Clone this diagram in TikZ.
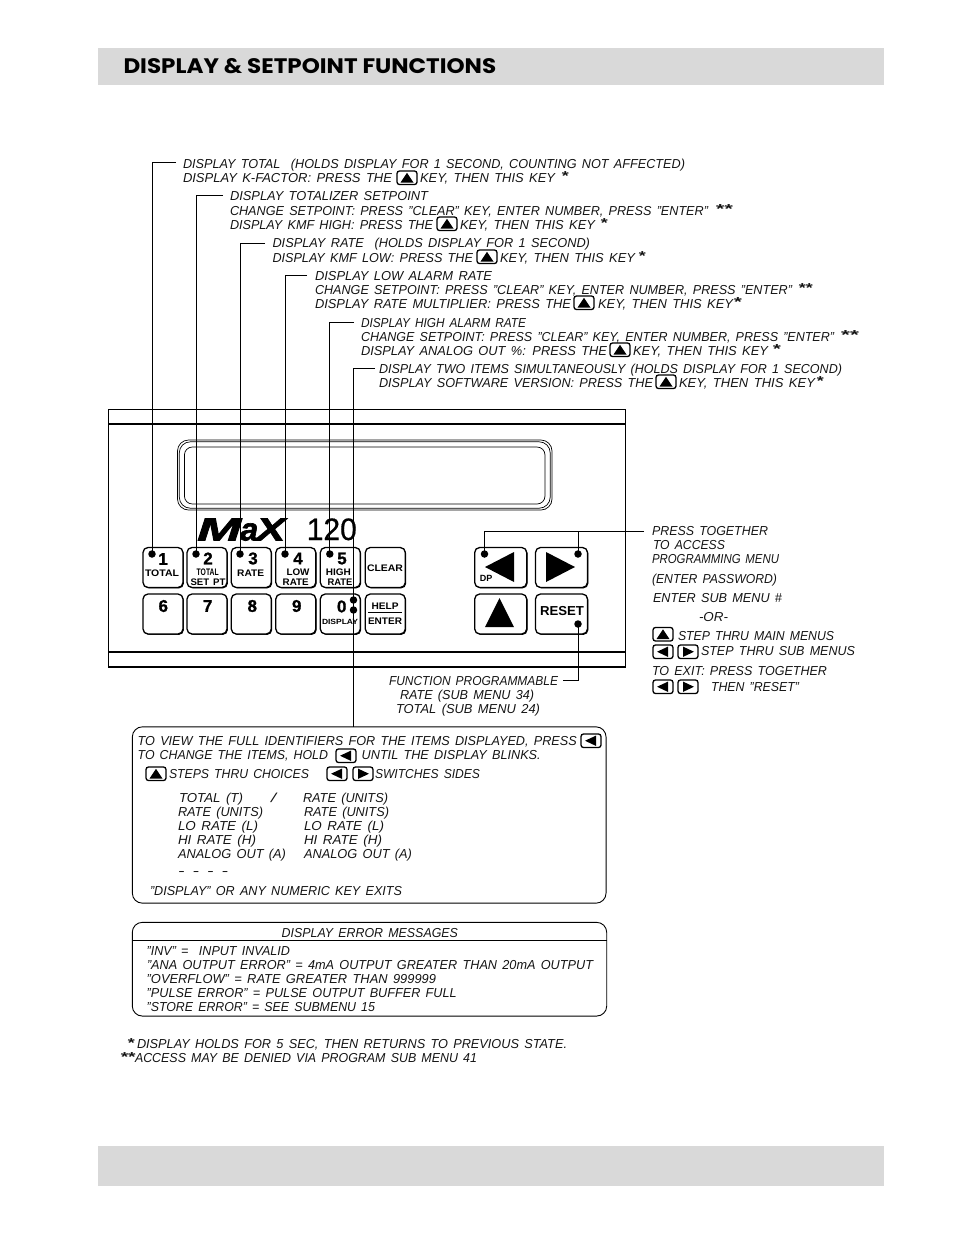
\documentclass[tikz,border=0pt]{standalone}
\usepackage{fontspec}
\usepackage{graphicx}
\setmainfont{Liberation Sans}[WordSpace=1.5]
\newfontfamily\titlefont{Poppins}
\newfontface\logofont{Liberation Sans Bold Italic}[FakeBold=2]
\newfontface\digitfont{Liberation Sans Bold}[FakeBold=1]
\newfontface\numfont{Liberation Sans}[FakeBold=0.6]
\usetikzlibrary{shadows}
\newcounter{lbl}
\tikzset{
  lab/.style={inner sep=0pt,outer sep=0pt,font=\fontsize{13}{14}\selectfont\itshape,text=black!92},
  keylab/.style={inner sep=0pt,outer sep=0pt,font=\fontsize{9.5}{10}\selectfont\bfseries},
  digit/.style={inner sep=0pt,outer sep=0pt,font=\digitfont\fontsize{17}{18}\selectfont},
  keybox/.style={draw,fill=white,rounded corners=5pt,line width=1.3pt,minimum width=40pt,minimum height=40pt,inner sep=0pt,
    drop shadow={shadow xshift=0.9pt,shadow yshift=-0.9pt,opacity=1,fill=black}},
  bigkey/.style={keybox,minimum width=52pt},
  leader/.style={line width=0.9pt},
  keydot/.style={circle,fill=black,inner sep=0pt,minimum size=7.5pt},
  panel/.style={line width=1.2pt},
  msgbox/.style={draw,rounded corners=10pt,line width=0.9pt,inner sep=0pt},
  window/.style={line width=0.7pt,rounded corners=11pt},
  icon/.style={line width=1.3pt,rounded corners=2.5pt,fill=white}
}
% text line squeezed between two x positions, on a baseline
\newcommand\tl[4]{\stepcounter{lbl}\pgfmathsetlengthmacro\tlw{(#2)-(#1)}%
  \node[lab,anchor=base west] (t\thelbl) at (#1,#3) {\resizebox{\tlw}{\height}{#4}};}
% bold key legend: centre x, baseline, width
\newcommand\kl[4]{\stepcounter{lbl}%
  \node[keylab,anchor=base] (t\thelbl) at (#1,#2) {\resizebox{#3pt}{\height}{#4}};}
\newcommand\dg[3]{\stepcounter{lbl}\node[digit] (t\thelbl) at (#1,#2) {#3};}
\newcommand\kup[2]{\begin{scope}[shift={(#1,#2)}]\draw[icon] (0,0) rectangle (20,13.5);\fill (10,1.8)--(16.5,11.5)--(3.5,11.5)--cycle;\end{scope}}
\newcommand\kleft[2]{\begin{scope}[shift={(#1,#2)}]\draw[icon] (0,0) rectangle (20,13.5);\fill (4,6.75)--(15,1.6)--(15,11.9)--cycle;\end{scope}}
\newcommand\kright[2]{\begin{scope}[shift={(#1,#2)}]\draw[icon] (0,0) rectangle (20,13.5);\fill (16,6.75)--(5,1.6)--(5,11.9)--cycle;\end{scope}}
\begin{document}
\begin{tikzpicture}[x=1pt,y=-1pt]
\useasboundingbox (0,0) rectangle (954,1235);
% bands
\fill[black!15] (98,48) rectangle (884,85);
\fill[black!15] (98,1146) rectangle (884,1186);
\node[inner sep=0pt,anchor=base west,font=\titlefont\fontsize{21}{24}\selectfont\bfseries] (title) at (123.3,73.3) {\resizebox{372.7pt}{\height}{DISPLAY \& SETPOINT FUNCTIONS}};
% panel
\draw[panel] (108.6,409.5) rectangle (625.8,667);
\draw[panel] (108.6,424) -- (625.8,424);
\draw[panel] (108.6,652) -- (625.8,652);
% display window
\draw[window] (177.5,440) rectangle (552,510);
\draw[window] (179.3,441.8) rectangle (550.2,508.2);
\draw[window,rounded corners=8pt] (184.4,447) rectangle (545,504);
% logo
\node[inner sep=0pt,anchor=base west,font=\logofont\fontsize{32}{34}\selectfont] (logom) at (197,540.5) {\resizebox{44pt}{\height}{M}};
\node[inner sep=0pt,anchor=base west,font=\logofont\fontsize{32}{34}\selectfont] (logoa) at (240,540.5) {\resizebox{18pt}{\height}{a}};
\node[inner sep=0pt,anchor=base west,font=\logofont\fontsize{32}{34}\selectfont] (logox) at (256,540.5) {\resizebox{29pt}{\height}{X}};
\node[inner sep=0pt,anchor=base west,font=\numfont\fontsize{31}{34}\selectfont] (logon) at (306.6,540) {\resizebox{50pt}{\height}{120}};
% keys
\node[keybox] (k1) at (163,567.5) {};
\node[keybox] (k2) at (207,567.5) {};
\node[keybox] (k3) at (251.3,567.5) {};
\node[keybox] (k4) at (295.8,567.5) {};
\node[keybox] (k5) at (340.3,567.5) {};
\node[keybox] (kc) at (385.3,567.5) {};
\node[keybox] (k6) at (163,614) {};
\node[keybox] (k7) at (207,614) {};
\node[keybox] (k8) at (251.3,614) {};
\node[keybox] (k9) at (295.8,614) {};
\node[keybox] (k0) at (340.3,614) {};
\node[keybox] (kh) at (385.3,614) {};
\node[bigkey] (kl) at (500.7,567.5) {};
\node[bigkey] (kr) at (561.5,567.5) {};
\node[bigkey] (ku) at (500.7,614) {};
\node[bigkey] (kx) at (561.5,614) {};
\fill (485,567)--(514,552)--(514,582)--cycle;
\fill (575,567)--(546,552)--(546,582)--cycle;
\fill (499.5,598)--(514,627)--(485,627)--cycle;
% key legends
\dg{163}{559}{1}\dg{208}{558.5}{2}\dg{253}{558.5}{3}\dg{298}{558.5}{4}\dg{342}{558.5}{5}
\dg{163.3}{606}{6}\dg{207.7}{606}{7}\dg{252.3}{606}{8}\dg{296.7}{606}{9}\dg{341.7}{606.5}{0}
\kl{162}{576.5}{34}{TOTAL}
\kl{207.7}{575.5}{22}{TOTAL}
\kl{208}{585}{35}{SET PT}
\kl{250.7}{576.5}{27}{RATE}
\kl{298}{575}{23}{LOW}
\kl{295.7}{585}{26}{RATE}
\kl{338.3}{575}{25}{HIGH}
\kl{340}{585}{25}{RATE}
\kl{385}{571.5}{36}{CLEAR}
\kl{340}{624}{36}{\fontsize{7.5}{8}\selectfont DISPLAY}
\kl{385}{609}{27}{HELP}
\kl{385}{624}{34}{ENTER}
\draw[line width=1pt] (368,612.3) -- (402,612.3);
\stepcounter{lbl}\node[keylab,anchor=base,font=\fontsize{9}{10}\selectfont\bfseries] (dp) at (486,581) {DP};
\node[keylab,anchor=base,font=\fontsize{13}{14}\selectfont\bfseries] (reset) at (562,615.5) {\resizebox{44pt}{\height}{RESET}};
% dots
\node[keydot] (d1) at (152,554) {};
\node[keydot] (d2) at (196,554) {};
\node[keydot] (d3) at (240,554) {};
\node[keydot] (d4) at (285,554) {};
\node[keydot] (d5) at (329.8,554) {};
\node[keydot] (d6) at (353.5,600) {};
\node[keydot] (d7) at (353.5,610) {};
\node[keydot] (dl) at (484.5,554) {};
\node[keydot] (dr) at (578,554) {};
\node[keydot] (dx) at (578,624) {};
% message boxes
\node[msgbox,minimum width=473.7pt,minimum height=176.3pt] (box1) at (369.2,815) {};
\node[msgbox,minimum width=474.4pt,minimum height=93.7pt] (box2) at (369.5,969.2) {};
\coordinate (box2a) at (132.3,940);
\coordinate (box2b) at (606.7,940);
\draw[line width=0.9pt] (box2a) -- (box2b);
% leaders
\coordinate (c1) at (176,162.5);
\coordinate (c2) at (223,195.5);
\coordinate (c3) at (265,243);
\coordinate (c4) at (307,275);
\coordinate (c5) at (354,322);
\coordinate (c6) at (375,368);
\coordinate (c6b) at (353.5,727);
\coordinate (cm) at (644,531);
\coordinate (cmj) at (578,531);
\coordinate (cf) at (563,680);
\draw[leader] (c1) -| (d1.center);
\draw[leader] (c2) -| (d2.center);
\draw[leader] (c3) -| (d3.center);
\draw[leader] (c4) -| (d4.center);
\draw[leader] (c5) -| (d5.center);
\draw[leader] (c6) -| (c6b);
\draw[leader] (cm) -| (dl.center);
\draw[leader] (cmj) -- (dr.center);
\draw[leader] (cf) -| (dx.center);
% callout text
\tl{183}{685}{168}{DISPLAY TOTAL \ (HOLDS DISPLAY FOR 1 SECOND, COUNTING NOT AFFECTED)}
\tl{183}{392}{182}{DISPLAY K-FACTOR: PRESS THE}
\kup{397}{171}
\tl{420}{555}{182}{KEY, THEN THIS KEY}
\tl{561}{568}{180}{\bfseries *}
\tl{230}{428}{200.5}{DISPLAY TOTALIZER SETPOINT}
\tl{230}{708}{215}{CHANGE SETPOINT: PRESS "CLEAR" KEY, ENTER NUMBER, PRESS "ENTER"}
\tl{715}{732}{213}{\bfseries **}
\tl{230}{433}{229}{DISPLAY KMF HIGH: PRESS THE}
\kup{437}{217}
\tl{460}{595}{229}{KEY, THEN THIS KEY}
\tl{600}{607}{227}{\bfseries *}
\tl{272.5}{590}{247}{DISPLAY RATE \ (HOLDS DISPLAY FOR 1 SECOND)}
\tl{272.5}{473}{262}{DISPLAY KMF LOW: PRESS THE}
\kup{477}{250}
\tl{500}{635}{262}{KEY, THEN THIS KEY}
\tl{638}{645}{260}{\bfseries *}
\tl{315}{492}{280}{DISPLAY LOW ALARM RATE}
\tl{315}{792}{294}{CHANGE SETPOINT: PRESS "CLEAR" KEY, ENTER NUMBER, PRESS "ENTER"}
\tl{798}{812}{292}{\bfseries **}
\tl{315}{571}{308}{DISPLAY RATE MULTIPLIER: PRESS THE}
\kup{574}{296}
\tl{598}{733}{308}{KEY, THEN THIS KEY}
\tl{733}{741}{306}{\bfseries *}
\tl{361}{526}{327}{DISPLAY HIGH ALARM RATE}
\tl{361}{834}{341}{CHANGE SETPOINT: PRESS "CLEAR" KEY, ENTER NUMBER, PRESS "ENTER"}
\tl{840}{858}{339}{\bfseries **}
\tl{361}{607}{355}{DISPLAY ANALOG OUT \%: PRESS THE}
\kup{610}{343}
\tl{633}{768}{355}{KEY, THEN THIS KEY}
\tl{772}{780}{353}{\bfseries *}
\tl{379}{842}{373}{DISPLAY TWO ITEMS SIMULTANEOUSLY (HOLDS DISPLAY FOR 1 SECOND)}
\tl{379}{653}{387}{DISPLAY SOFTWARE VERSION: PRESS THE}
\kup{656}{375}
\tl{679}{815}{387}{KEY, THEN THIS KEY}
\tl{816}{823}{385}{\bfseries *}
% right column
\tl{652}{768}{535}{PRESS TOGETHER}
\tl{653}{725}{549.5}{TO ACCESS}
\tl{652}{779}{563.5}{PROGRAMMING MENU}
\tl{652}{777}{583}{(ENTER PASSWORD)}
\tl{653}{782}{602}{ENTER SUB MENU \#}
\tl{699}{728}{621}{-OR-}
\kup{653}{627.5}
\tl{678}{834}{640}{STEP THRU MAIN MENUS}
\kleft{653}{645}
\kright{678}{645}
\tl{701}{855}{655}{STEP THRU SUB MENUS}
\tl{652}{827}{675}{TO EXIT: PRESS TOGETHER}
\kleft{653}{680}
\kright{678}{680}
\tl{711}{799}{691}{THEN "RESET"}
% function programmable
\tl{389}{558}{685}{FUNCTION PROGRAMMABLE}
\tl{400}{534}{699}{RATE (SUB MENU 34)}
\tl{396}{540}{713}{TOTAL (SUB MENU 24)}
% box 1 text
\tl{137.7}{576.7}{745.5}{TO VIEW THE FULL IDENTIFIERS FOR THE ITEMS DISPLAYED, PRESS}
\kleft{581}{734}
\tl{137.7}{328}{759.5}{TO CHANGE THE ITEMS, HOLD}
\kleft{336}{749}
\tl{361.7}{540.7}{759.5}{UNTIL THE DISPLAY BLINKS.}
\kup{146}{767}
\tl{169}{309}{778}{STEPS THRU CHOICES}
\kleft{327}{767}
\kright{353}{767}
\tl{375}{480}{778}{SWITCHES SIDES}
\tl{179}{243}{802}{TOTAL (T)}
\tl{271}{276}{802}{/}
\tl{303}{388}{802}{RATE (UNITS)}
\tl{178}{263}{816}{RATE (UNITS)}
\tl{304}{389}{816}{RATE (UNITS)}
\tl{178}{258}{830}{LO RATE (L)}
\tl{304}{384}{830}{LO RATE (L)}
\tl{178}{256}{844}{HI RATE (H)}
\tl{304}{382}{844}{HI RATE (H)}
\tl{178}{286}{858}{ANALOG OUT (A)}
\tl{304}{412}{858}{ANALOG OUT (A)}
\tl{178}{228}{875}{- - - -}
\tl{150}{402}{895}{"DISPLAY" OR ANY NUMERIC KEY EXITS}
% box 2 text
\tl{281.7}{458}{937}{DISPLAY ERROR MESSAGES}
\tl{146.7}{290}{955}{"INV" = \ INPUT INVALID}
\tl{147}{593}{969}{"ANA OUTPUT ERROR" = 4mA OUTPUT GREATER THAN 20mA OUTPUT}
\tl{146.7}{436}{983}{"OVERFLOW" = RATE GREATER THAN 999999}
\tl{146.7}{456.7}{997}{"PULSE ERROR" = PULSE OUTPUT BUFFER FULL}
\tl{146.7}{375}{1011}{"STORE ERROR" = SEE SUBMENU 15}
% footnotes
\tl{127}{134}{1047}{\bfseries *}
\tl{137}{567}{1048}{DISPLAY HOLDS FOR 5 SEC, THEN RETURNS TO PREVIOUS STATE.}
\tl{120}{135}{1061}{\bfseries **}
\tl{135}{477}{1062}{ACCESS MAY BE DENIED VIA PROGRAM SUB MENU 41}
\end{tikzpicture}
\end{document}
